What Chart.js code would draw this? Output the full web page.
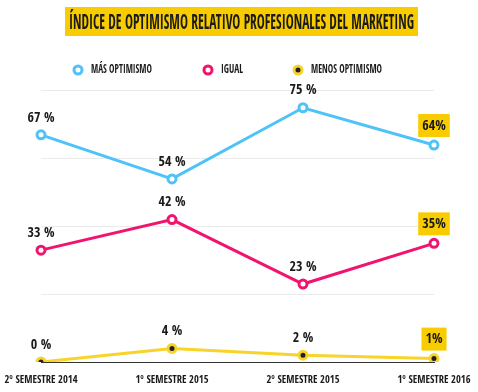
<!DOCTYPE html>
<html><head><meta charset="utf-8">
<script src="https://cdn.jsdelivr.net/npm/chart.js@4"></script>
<style>html,body{margin:0;padding:0;background:#fff}</style>
</head><body>
<canvas id="c" width="478" height="392" style="width:478px;height:392px;display:block"></canvas>
<script>
const titleText = "ÍNDICE DE OPTIMISMO RELATIVO PROFESIONALES DEL MARKETING";
const categories = ["2º SEMESTRE 2014", "1º SEMESTRE 2015", "2º SEMESTRE 2015", "1º SEMESTRE 2016"];
const seriesNames = ["MÁS OPTIMISMO", "IGUAL", "MENOS OPTIMISMO"];
const masOptimismo = [67, 54, 75, 64];
const igual = [33, 42, 23, 35];
const menosOptimismo = [0, 4, 2, 1];
const yMin = 0, yMax = 100, yStep = 20;

const FONT = "'Open Sans Condensed', 'Roboto Condensed', sans-serif";
const BLUE = '#4fc3f7', PINK = '#f0146e', YELLOW = '#f8d42a', BOX = '#f9cc00', INK = '#1a1a1a';

function fitText(ctx, text, x, y, targetW, align) {
  const w = ctx.measureText(text).width;
  const s = targetW ? Math.min(1, targetW / w) : 1;
  ctx.save();
  ctx.translate(x, y);
  ctx.scale(s, 1);
  ctx.textAlign = align || 'left';
  ctx.fillText(text, 0, 0);
  ctx.restore();
  return w * s;
}

const decor = {
  id: 'decor',
  afterDraw(chart) {
    const ctx = chart.ctx;
    ctx.save();
    ctx.fillStyle = BOX;
    ctx.fillRect(65, 7, 353, 29);
    ctx.fillStyle = INK;
    ctx.font = `bold 22px ${FONT}`;
    ctx.textBaseline = 'alphabetic';
    fitText(ctx, titleText, 69, 29, 345, 'left');
    const lx = [78, 208, 298];
    const lw = [61, 22, 71];
    const ly = 70;
    chart.data.datasets.forEach((ds, i) => {
      ctx.beginPath();
      ctx.arc(lx[i], ly, 4, 0, Math.PI * 2);
      ctx.fillStyle = ds.pointBackgroundColor;
      ctx.fill();
      ctx.lineWidth = 3;
      ctx.strokeStyle = ds.pointBorderColor;
      ctx.stroke();
      ctx.fillStyle = INK;
      ctx.font = `bold 12px ${FONT}`;
      ctx.textBaseline = 'middle';
      fitText(ctx, seriesNames[i], lx[i] + 13, ly, lw[i], 'left');
    });
    ctx.restore();
  },
  afterDatasetsDraw(chart) {
    const ctx = chart.ctx;
    ctx.save();
    chart.data.datasets.forEach((ds, di) => {
      const meta = chart.getDatasetMeta(di);
      meta.data.forEach((pt, i) => {
        const v = ds.data[i];
        const last = i === ds.data.length - 1;
        ctx.font = `bold 14px ${FONT}`;
        ctx.textBaseline = 'middle';
        ctx.textAlign = 'center';
        if (last) {
          const t = v + '%';
          const w = ctx.measureText(t).width;
          ctx.fillStyle = BOX;
          ctx.fillRect(pt.x - w / 2 - 4, pt.y - 31, w + 8, 23);
          ctx.fillStyle = INK;
          fitText(ctx, t, pt.x, pt.y - 19, w, 'center');
        } else {
          ctx.fillStyle = INK;
          fitText(ctx, v + ' %', pt.x, pt.y - 17, 0, 'center');
        }
      });
    });
    ctx.restore();
  }
};

new Chart(document.getElementById('c'), {
  type: 'line',
  data: {
    labels: categories,
    datasets: [
      { label: seriesNames[0], data: masOptimismo, borderColor: BLUE, borderWidth: 3,
        pointRadius: 4, pointBorderWidth: 3, pointBackgroundColor: '#ffffff', pointBorderColor: BLUE, tension: 0 },
      { label: seriesNames[1], data: igual, borderColor: PINK, borderWidth: 3,
        pointRadius: 4, pointBorderWidth: 3, pointBackgroundColor: '#ffffff', pointBorderColor: PINK, tension: 0 },
      { label: seriesNames[2], data: menosOptimismo, borderColor: YELLOW, borderWidth: 3,
        pointRadius: 4, pointBorderWidth: 3, pointBackgroundColor: '#222222', pointBorderColor: YELLOW, tension: 0 }
    ]
  },
  options: {
    responsive: false,
    animation: false,
    events: [],
    layout: { padding: { left: 41, right: 44, top: 23, bottom: 0 } },
    plugins: { legend: { display: false }, title: { display: false }, tooltip: { enabled: false } },
    scales: {
      x: {
        offset: false,
        grid: { display: false, drawTicks: false },
        border: { display: true, color: '#333333', width: 1 },
        ticks: { color: INK, padding: 12, maxRotation: 0, autoSkip: false,
                 font: { family: FONT, size: 10.5, weight: 'bold' } },
        afterFit(scale) { scale.height = 30; scale.paddingLeft = 0; scale.paddingRight = 0; }
      },
      y: {
        min: yMin, max: yMax,
        ticks: { display: false, stepSize: yStep },
        border: { display: false },
        grid: { drawTicks: false,
                color: c => (c.tick.value === yMin || c.tick.value === yMax) ? 'rgba(0,0,0,0)' : '#ebebeb' },
        afterFit(scale) { scale.width = 0; }
      }
    }
  },
  plugins: [decor]
});
</script>
</body></html>
